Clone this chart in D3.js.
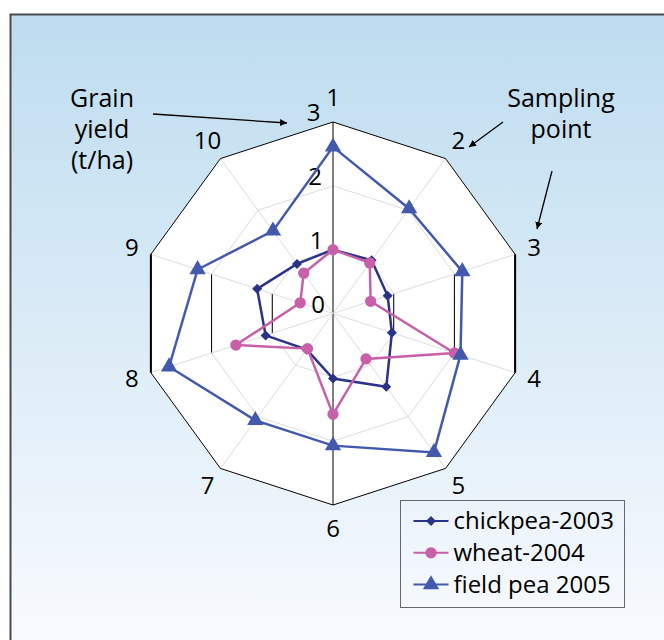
<!DOCTYPE html>
<html>
<head>
<meta charset="utf-8">
<script src="https://cdn.jsdelivr.net/npm/d3@7"></script>
<style>
  body { margin: 0; background: #fff; }
  svg { display: block; font-family: "Open Sans", sans-serif; }
</style>
</head>
<body>
<svg id="chart"></svg>
<script>
const points = ["1", "2", "3", "4", "5", "6", "7", "8", "9", "10"];
const ticks = [0, 1, 2, 3];
const chickpea2003 = [1.0, 1.03, 0.9, 0.97, 1.42, 1.02, 0.7, 1.11, 1.25, 0.96];
const wheat2004 = [1.0, 0.98, 0.62, 2.0, 0.88, 1.58, 0.68, 1.6, 0.54, 0.78];
const fieldpea2005 = [2.61, 2.03, 2.13, 2.1, 2.69, 2.07, 2.07, 2.7, 2.23, 1.6];
const seriesNames = ["chickpea-2003", "wheat-2004", "field pea 2005"];

const width = 664, height = 640;
const cx = 333, cy = 313.5, R = 191.5;

const svg = d3.select("#chart").attr("width", width).attr("height", height);

// background gradient panel
const grad = svg.append("defs").append("linearGradient")
  .attr("id", "bg").attr("x1", 0).attr("y1", 0).attr("x2", 0).attr("y2", 1);
grad.append("stop").attr("offset", "0%").attr("stop-color", "#bddcef");
grad.append("stop").attr("offset", "100%").attr("stop-color", "#f9fbfe");

svg.append("rect")
  .attr("x", 10.5).attr("y", 14.5)
  .attr("width", 670).attr("height", 640)
  .attr("fill", "url(#bg)")
  .attr("stroke", "#4a4a4a").attr("stroke-width", 2);

const r = d3.scaleLinear().domain([0, 3]).range([0, R]);
const angle = d3.scaleLinear().domain([0, points.length]).range([0, 2 * Math.PI]);

const g = svg.append("g").attr("transform", `translate(${cx},${cy})`);

const ring = d3.lineRadial()
  .angle((d, i) => angle(i))
  .radius(d => r(d))
  .curve(d3.curveLinearClosed);

const xy = (i, v) => [r(v) * Math.sin(angle(i)), -r(v) * Math.cos(angle(i))];

// white plot area
g.append("path").attr("d", ring(points.map(() => 3))).attr("fill", "#fff");

// inner grid rings
[1, 2].forEach(t => {
  g.append("path")
    .attr("d", ring(points.map(() => t)))
    .attr("fill", "none")
    .attr("stroke", "#d4d4d4").attr("stroke-width", 0.8);
  // vertical edges render darker in the original
  [[2, 3], [7, 8]].forEach(([a, b]) => {
    const p = xy(a, t), q = xy(b, t);
    g.append("line")
      .attr("x1", p[0]).attr("y1", p[1]).attr("x2", q[0]).attr("y2", q[1])
      .attr("stroke", "#000").attr("stroke-width", 1);
  });
});

// spokes
points.forEach((p, i) => {
  const e = xy(i, 3);
  g.append("line")
    .attr("x1", 0).attr("y1", 0).attr("x2", e[0]).attr("y2", e[1])
    .attr("stroke", (i === 0 || i === 5) ? "#000" : "#d4d4d4")
    .attr("stroke-width", (i === 0 || i === 5) ? 1 : 0.8);
});

// outer ring
g.append("path")
  .attr("d", ring(points.map(() => 3)))
  .attr("fill", "none")
  .attr("stroke", "#000").attr("stroke-width", 1);
[[2, 3], [7, 8]].forEach(([a, b]) => {
  const p = xy(a, 3), q = xy(b, 3);
  g.append("line")
    .attr("x1", p[0]).attr("y1", p[1]).attr("x2", q[0]).attr("y2", q[1])
    .attr("stroke", "#000").attr("stroke-width", 2);
});

// tick labels on the vertical axis
g.selectAll(".tick").data(ticks).enter().append("text")
  .attr("x", d => -8 + d * -1.5)
  .attr("y", d => -r(d) - 1)
  .attr("text-anchor", "end")
  .attr("font-size", 24)
  .attr("fill", "#000")
  .text(d => d);

// axis labels
const labelOffset = [24, 22, 20, 20, 22, 24, 22, 20, 20, 22];
g.selectAll(".axlab").data(points).enter().append("text")
  .attr("x", (d, i) => xy(i, 3)[0] + (labelOffset[i]) * Math.sin(angle(i)))
  .attr("y", (d, i) => xy(i, 3)[1] - (labelOffset[i]) * Math.cos(angle(i)) + 8)
  .attr("text-anchor", "middle")
  .attr("font-size", 24)
  .attr("fill", "#000")
  .text(d => d);

// series
const colors = ["#2b3388", "#c760a8", "#4259ad"];
const shapes = [d3.symbolSquare, d3.symbolCircle, d3.symbolTriangle];
const sizes = [50, 100, 115];
const rot = [45, 0, 0];
const data = [chickpea2003, wheat2004, fieldpea2005];

data.forEach((vals, s) => {
  g.append("path")
    .attr("d", ring(vals))
    .attr("fill", "none")
    .attr("stroke", colors[s]).attr("stroke-width", 2.5);
  g.selectAll(".m" + s).data(vals).enter().append("path")
    .attr("d", d3.symbol().type(shapes[s]).size(sizes[s]))
    .attr("transform", (d, i) => `translate(${xy(i, d)[0]},${xy(i, d)[1]}) rotate(${rot[s]})`)
    .attr("fill", colors[s]);
});

// annotations
const ann = svg.append("g").attr("font-size", 25).attr("fill", "#000").attr("text-anchor", "middle");
["Grain", "yield", "(t/ha)"].forEach((t, i) => ann.append("text").attr("x", 102).attr("y", 107 + i * 31).text(t));
["Sampling", "point"].forEach((t, i) => ann.append("text").attr("x", 561).attr("y", 107 + i * 31).text(t));

const marker = svg.select("defs").append("marker")
  .attr("id", "arrow").attr("viewBox", "0 0 10 10")
  .attr("refX", 10).attr("refY", 5)
  .attr("markerWidth", 7).attr("markerHeight", 7)
  .attr("markerUnits", "userSpaceOnUse")
  .attr("orient", "auto");
marker.append("path").attr("d", "M0,0L10,5L0,10z").attr("fill", "#000");

[[153, 114, 287, 123], [503, 122, 469, 147], [552, 171, 537, 229]].forEach(([x1, y1, x2, y2]) => {
  svg.append("line")
    .attr("x1", x1).attr("y1", y1).attr("x2", x2).attr("y2", y2)
    .attr("stroke", "#000").attr("stroke-width", 1.3)
    .attr("marker-end", "url(#arrow)");
});

// legend
const lg = svg.append("g").attr("transform", "translate(400.5,500.5)");
lg.append("rect").attr("width", 224).attr("height", 107)
  .attr("fill", "none").attr("stroke", "#666").attr("stroke-width", 1);
seriesNames.forEach((name, s) => {
  const y = 20.5 + s * 31.8;
  lg.append("line").attr("x1", 13).attr("x2", 48).attr("y1", y).attr("y2", y)
    .attr("stroke", colors[s]).attr("stroke-width", 2);
  lg.append("path")
    .attr("d", d3.symbol().type(shapes[s]).size(sizes[s]))
    .attr("transform", `translate(30.5,${y}) rotate(${rot[s]})`)
    .attr("fill", colors[s]);
  lg.append("text").attr("x", 53).attr("y", y + 8)
    .attr("font-size", 24).attr("fill", "#000").text(name);
});
</script>
</body>
</html>
